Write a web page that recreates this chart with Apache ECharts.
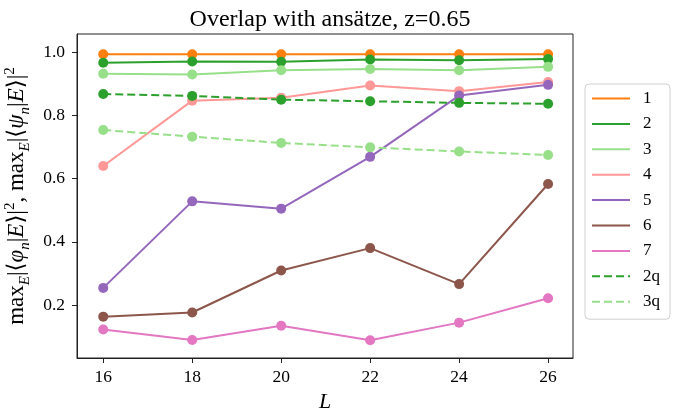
<!DOCTYPE html>
<html>
<head>
<meta charset="utf-8">
<script src="https://cdn.jsdelivr.net/npm/echarts@6/dist/echarts.min.js"></script>
<style>html,body{margin:0;padding:0;background:#fff}#c{width:676px;height:410px}</style>
</head>
<body>
<div id="c"></div>
<script>
const L = [16, 18, 20, 22, 24, 26];
const xTicks = [16, 18, 20, 22, 24, 26];
const yTicks = [0.2, 0.4, 0.6, 0.8, 1.0];
const seriesNames = ['1', '2', '3', '4', '5', '6', '7', '2q', '3q'];
const s1 = [0.994, 0.994, 0.994, 0.994, 0.994, 0.994];
const s2 = [0.967, 0.971, 0.970, 0.977, 0.975, 0.979];
const s3 = [0.932, 0.930, 0.943, 0.947, 0.943, 0.954];
const s4 = [0.640, 0.847, 0.856, 0.895, 0.877, 0.906];
const s5 = [0.254, 0.528, 0.505, 0.669, 0.863, 0.897];
const s6 = [0.163, 0.176, 0.309, 0.380, 0.266, 0.583];
const s7 = [0.122, 0.089, 0.134, 0.088, 0.144, 0.221];
const s2q = [0.868, 0.862, 0.850, 0.845, 0.840, 0.837];
const s3q = [0.754, 0.733, 0.713, 0.699, 0.686, 0.675];
const values = [s1, s2, s3, s4, s5, s6, s7, s2q, s3q];
const colors = ['#ff7f0e', '#2ca02c', '#98df8a', '#ff9896', '#9467bd', '#8c564b', '#e377c2', '#2ca02c', '#98df8a'];
const dashed = [false, false, false, false, false, false, false, true, true];

const FONT = '"Liberation Serif", "DejaVu Serif", serif';

const series = seriesNames.map((n, i) => ({
  name: n,
  type: 'line',
  data: L.map((x, j) => [x, values[i][j]]),
  symbol: 'circle',
  symbolSize: 10,
  color: colors[i],
  lineStyle: { width: 2, color: colors[i], type: dashed[i] ? [8, 4] : 'solid' },
  itemStyle: { color: colors[i] },
  emphasis: { disabled: true },
  animation: false
}));

const chart = echarts.init(document.getElementById('c'), null, { renderer: 'canvas' });
chart.setOption({
  backgroundColor: '#fff',
  animation: false,
  title: {
    text: 'Overlap with ansätze, z=0.65',
    left: 325, top: 3, textAlign: 'center',
    textStyle: { fontFamily: FONT, fontSize: 24, fontWeight: 'normal', color: '#000' }
  },
  grid: { left: 77, right: 103, top: 34, bottom: 52, show: true, borderColor: '#222', borderWidth: 1, backgroundColor: 'transparent', outerBoundsMode: 'none', containLabel: false },
  legend: {
    orient: 'vertical', left: 585, top: 84,
    padding: [6, 10, 9, 6],
    itemWidth: 38, itemHeight: 14, itemGap: 8.4,
    borderColor: '#d0d0d0', borderWidth: 1, borderRadius: 4,
    itemStyle: { opacity: 0 },
    textStyle: { fontFamily: FONT, fontSize: 17, color: '#000', padding: [0, 0, 0, 8] },
    data: seriesNames
  },
  xAxis: {
    type: 'value', min: 15.41, max: 26.56,
    name: 'L', nameLocation: 'middle', nameGap: 30,
    nameTextStyle: { fontFamily: FONT, fontSize: 22, fontStyle: 'italic', color: '#000' },
    axisLine: { show: true, lineStyle: { color: '#222', width: 1 } },
    axisTick: { show: true, length: 5, inside: false, customValues: xTicks, lineStyle: { color: '#222' } },
    axisLabel: { customValues: xTicks, fontFamily: FONT, fontSize: 17.5, color: '#000', margin: 10 },
    splitLine: { show: false }
  },
  yAxis: {
    type: 'value', min: 0.032, max: 1.058,
    name: '{r|max}{sb|E}{r||⟨}{i|φ}{sb|n}{r||}{i|E}{r|⟩|}{sp|2}{r|, max}{sb|E}{r||⟨}{i|ψ}{sb|n}{r||}{i|E}{r|⟩|}{sp|2}',
    nameLocation: 'middle', nameGap: 42,
    nameTextStyle: {
      fontFamily: FONT, fontSize: 23, color: '#000',
      rich: {
        r: { fontFamily: FONT, fontSize: 23, lineHeight: 30, verticalAlign: 'middle' },
        i: { fontFamily: FONT, fontSize: 23, fontStyle: 'italic', lineHeight: 30, verticalAlign: 'middle' },
        sb: { fontFamily: FONT, fontSize: 15, fontStyle: 'italic', lineHeight: 30, verticalAlign: 'bottom' },
        sp: { fontFamily: FONT, fontSize: 15, lineHeight: 30, verticalAlign: 'top' }
      }
    },
    axisLine: { show: true, lineStyle: { color: '#222', width: 1 } },
    axisTick: { show: true, length: 5, inside: false, customValues: yTicks, lineStyle: { color: '#222' } },
    axisLabel: { customValues: yTicks, formatter: v => v.toFixed(1), fontFamily: FONT, fontSize: 17.5, color: '#000', margin: 12 },
    splitLine: { show: false }
  },
  series: series
});
</script>
</body>
</html>
